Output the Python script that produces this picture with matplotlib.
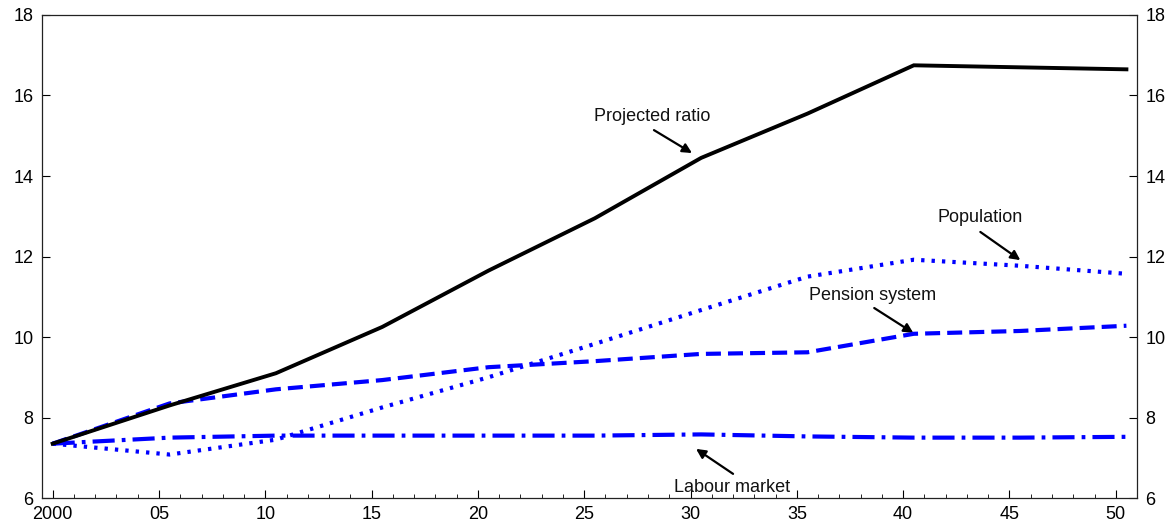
import matplotlib
matplotlib.use("Agg")
import matplotlib.pyplot as plt
from matplotlib.ticker import MultipleLocator, FixedLocator

plt.rcParams['font.family'] = ['Liberation Sans', 'DejaVu Sans']

# Old-age dependency projections (per cent)
years = [2000, 2005.5, 2010.5, 2015.5, 2020.5, 2025.5, 2030.5, 2035.5, 2040.5, 2045.5, 2050.5]
projected_ratio = [7.35, 8.30, 9.10, 10.25, 11.65, 12.95, 14.45, 15.55, 16.75, 16.70, 16.65]
population = [7.35, 7.08, 7.45, 8.25, 9.00, 9.83, 10.67, 11.50, 11.92, 11.77, 11.57]
pension_system = [7.35, 8.35, 8.70, 8.93, 9.25, 9.40, 9.58, 9.62, 10.08, 10.15, 10.28]
labour_market = [7.35, 7.50, 7.55, 7.55, 7.55, 7.55, 7.58, 7.53, 7.50, 7.50, 7.52]

xtick_values = [2000, 2005, 2010, 2015, 2020, 2025, 2030, 2035, 2040, 2045, 2050]
xtick_labels = ['2000', '05', '10', '15', '20', '25', '30', '35', '40', '45', '50']
ytick_values = [6, 8, 10, 12, 14, 16, 18]

fig = plt.figure(figsize=(11.71, 5.28), dpi=100)
ax = fig.add_axes([0.0359, 0.0568, 0.9351, 0.9148])

blue = '#0000ff'
ax.plot(years, projected_ratio, color='black', lw=2.8, solid_joinstyle='miter', zorder=5)
ax.plot(years, population, color=blue, lw=3.0, linestyle=(0, (0.8, 1.7)),
        dash_capstyle='butt', zorder=4)
ax.plot(years, pension_system, color=blue, lw=3.0, linestyle=(0, (3.6, 1.7)),
        dash_capstyle='butt', zorder=4)
ax.plot(years, labour_market, color=blue, lw=3.0, linestyle=(0, (5.3, 1.7, 0.9, 1.7)),
        dash_capstyle='butt', zorder=4)

ax.set_xlim(1999.5, 2051.0)
ax.set_ylim(6, 18)

ax.xaxis.set_major_locator(FixedLocator(xtick_values))
ax.set_xticks(xtick_values)
ax.set_xticklabels(xtick_labels)
ax.xaxis.set_minor_locator(MultipleLocator(1))
ax.set_yticks(ytick_values)

ax.tick_params(axis='x', which='major', direction='in', length=6, width=0.8,
               labelsize=13, pad=6)
ax.tick_params(axis='x', which='minor', direction='in', length=3, width=0.6)
ax.tick_params(axis='y', which='major', direction='in', length=6, width=0.8,
               labelsize=13, left=True, right=True, labelleft=True, labelright=True, pad=6)
ax.tick_params(axis='x', top=False)

for s in ax.spines.values():
    s.set_linewidth(0.9)
    s.set_color('#222222')

arrow = dict(arrowstyle='-|>', lw=1.6, color='black', mutation_scale=14,
             shrinkA=0, shrinkB=0)
text_kw = dict(fontsize=13, ha='center', va='center', color='#111111')

ax.annotate('', xy=(2030.07, 14.57), xytext=(2028.28, 15.14), arrowprops=arrow)
ax.text(2028.19, 15.47, 'Projected ratio', **text_kw)

ax.annotate('', xy=(2045.51, 11.91), xytext=(2043.63, 12.61), arrowprops=arrow)
ax.text(2043.63, 12.96, 'Population', **text_kw)

ax.annotate('', xy=(2040.48, 10.10), xytext=(2038.64, 10.72), arrowprops=arrow)
ax.text(2038.55, 11.04, 'Pension system', **text_kw)

ax.annotate('', xy=(2030.26, 7.22), xytext=(2032.0, 6.60), arrowprops=arrow)
ax.text(2031.96, 6.27, 'Labour market', **text_kw)

fig.savefig('out.png', dpi=100)
